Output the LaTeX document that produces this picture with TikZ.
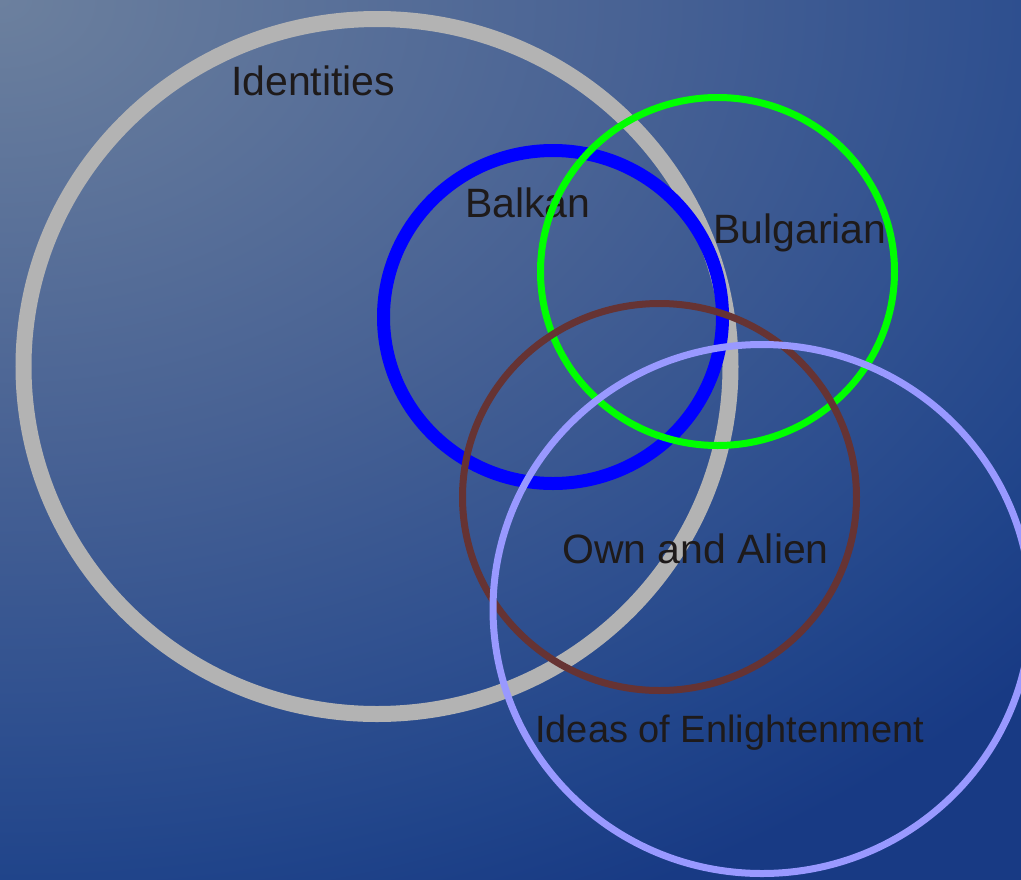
\documentclass[tikz,border=0pt]{standalone}
\usepackage{fontspec}
\setmainfont{Liberation Sans}
\definecolor{bg0}{RGB}{108,128,158}
\definecolor{bg1}{RGB}{72,98,148}
\definecolor{bg2}{RGB}{46,79,143}
\definecolor{bg3}{RGB}{32,68,138}
\definecolor{bg4}{RGB}{24,58,132}
\definecolor{txt}{RGB}{30,26,26}
\definecolor{ringgray}{RGB}{179,179,179}
\definecolor{ringblue}{RGB}{0,0,255}
\definecolor{ringgreen}{RGB}{0,255,0}
\definecolor{ringbrown}{RGB}{102,51,51}
\definecolor{ringpurple}{RGB}{153,153,255}
\pgfdeclareradialshading{bgshade}{\pgfpoint{0bp}{0bp}}{color(0bp)=(bg0); color(5.625bp)=(bg1); color(9.125bp)=(bg2); color(11bp)=(bg3); color(12.5bp)=(bg4); color(50bp)=(bg4)}
\begin{document}
\begin{tikzpicture}[x=1pt,y=-1pt,
  lbl/.style={text=txt, inner sep=0pt, anchor=base west, font=\fontsize{41}{49}\selectfont},
  ring/.style={draw=#1}]
\useasboundingbox (0,0) rectangle (1021,879);
\fill[bg4] (-5,-5) rectangle (1026,884);
\begin{scope}
  \clip (-5,-5) rectangle (1026,884);
  \shade[shading=bgshade] (0,0) ellipse [x radius=2800, y radius=2000];
\end{scope}
% Identities
\draw[ring=ringgray, line width=16pt] (377,366.5) ellipse [x radius=353.5, y radius=347.5];
\node[lbl] (identities) at (231,95) {Identities};
% Balkan
\draw[ring=ringblue, line width=13pt] (553,317) ellipse [x radius=169.5, y radius=166.5];
\node[lbl] (balkan) at (465,217) {Balkan};
% Bulgarian
\draw[ring=ringgreen, line width=7pt] (717.5,271.5) ellipse [x radius=177, y radius=174];
\node[lbl] (bulgarian) at (713,243) {Bulgarian};
% Own and Alien
\draw[ring=ringbrown, line width=7pt] (659.5,497) ellipse [x radius=197, y radius=193.5];
\node[lbl] (own) at (562,563) {Own and Alien};
% Ideas of Enlightenment
\draw[ring=ringpurple, line width=7pt] (762,609) ellipse [x radius=269, y radius=264.5];
\node[lbl, font=\fontsize{38}{46}\selectfont] (ideas) at (535,742) {Ideas of Enlightenment};
\end{tikzpicture}
\end{document}
